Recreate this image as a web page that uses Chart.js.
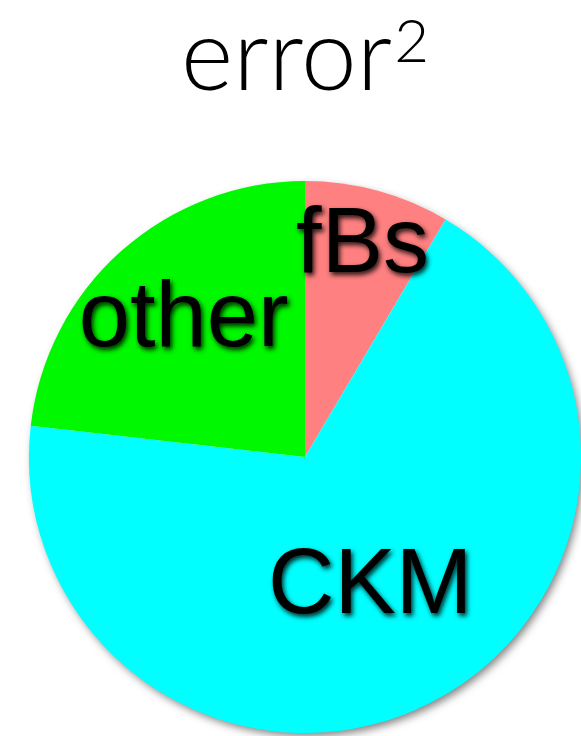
<!DOCTYPE html>
<html>
<head>
<meta charset="utf-8">
<script src="https://cdn.jsdelivr.net/npm/chart.js@4/dist/chart.umd.min.js"></script>
<style>
  html, body { margin: 0; padding: 0; background: #fff; }
  #wrap { width: 581px; height: 736px; }
</style>
</head>
<body>
<div id="wrap"><canvas id="pie" width="581" height="736"></canvas></div>
<script>
// share of the error budget, clockwise from 12 o'clock
const labels = ['fBs', 'CKM', 'other'];
const shares = [8.5, 68.3, 23.2];
const sliceColors = ['#ff8080', '#00ffff', '#00f800'];
const titleText = 'error';
const titleExponent = '2';

// "error" with a real superscript 2, centred over the pie
const squaredTitle = {
    id: 'squaredTitle',
    afterDraw(chart, args, opts) {
        const ctx = chart.ctx;
        const cx = (chart.chartArea.left + chart.chartArea.right) / 2;
        ctx.save();
        ctx.fillStyle = '#000';
        ctx.textBaseline = 'alphabetic';
        ctx.textAlign = 'left';
        ctx.font = '300 ' + opts.size + 'px ' + opts.family;
        const w1 = ctx.measureText(titleText).width;
        ctx.font = '300 ' + opts.supSize + 'px ' + opts.family;
        const w2 = ctx.measureText(titleExponent).width;
        const x0 = cx - (w1 + opts.gap + w2) / 2;
        ctx.font = '300 ' + opts.size + 'px ' + opts.family;
        ctx.fillText(titleText, x0, opts.baseline);
        ctx.font = '300 ' + opts.supSize + 'px ' + opts.family;
        ctx.fillText(titleExponent, x0 + w1 + opts.gap, opts.supBaseline);
        ctx.restore();
    }
};

// soft drop shadow under the whole disc
const discShadow = {
    id: 'discShadow',
    beforeDatasetsDraw(chart) {
        const arc = chart.getDatasetMeta(0).data[0];
        if (!arc) return;
        const ctx = chart.ctx;
        ctx.save();
        ctx.shadowColor = 'rgba(0,0,0,0.5)';
        ctx.shadowBlur = 9;
        ctx.shadowOffsetX = 3;
        ctx.shadowOffsetY = 4;
        ctx.fillStyle = '#fff';
        ctx.beginPath();
        ctx.arc(arc.x, arc.y, arc.outerRadius - 1, 0, Math.PI * 2);
        ctx.fill();
        ctx.restore();
    }
};

// big labels inside the slices, placed along each slice's middle angle
const sliceLabels = {
    id: 'sliceLabels',
    afterDatasetsDraw(chart, args, opts) {
        const ctx = chart.ctx;
        const meta = chart.getDatasetMeta(0);
        ctx.save();
        ctx.font = opts.font;
        ctx.textAlign = 'center';
        ctx.textBaseline = 'middle';
        ctx.fillStyle = '#000';
        ctx.shadowColor = 'rgba(0,0,0,0.85)';
        ctx.shadowBlur = 5;
        ctx.shadowOffsetX = 2;
        ctx.shadowOffsetY = 3;
        meta.data.forEach((arc, i) => {
            const mid = (arc.startAngle + arc.endAngle) / 2;
            const r = arc.outerRadius * opts.radius[i];
            ctx.fillText(labels[i], arc.x + Math.cos(mid) * r, arc.y + Math.sin(mid) * r);
        });
        ctx.restore();
    }
};

new Chart(document.getElementById('pie'), {
    type: 'pie',
    data: {
        labels: labels,
        datasets: [{
            data: shares,
            backgroundColor: sliceColors,
            borderWidth: 0
        }]
    },
    options: {
        responsive: false,
        animation: false,
        layout: { padding: { left: 29, right: 0, top: 181, bottom: 3 } },
        plugins: {
            legend: { display: false },
            tooltip: { enabled: false },
            title: { display: false },
            squaredTitle: {
                family: 'Lato, "Open Sans", sans-serif',
                size: 100,
                supSize: 60,
                gap: 2,
                baseline: 90,
                supBaseline: 62
            },
            sliceLabels: {
                font: '92px "Liberation Sans", Arial, sans-serif',
                radius: [0.79, 0.53, 0.66]
            }
        }
    },
    plugins: [discShadow, sliceLabels, squaredTitle]
});
</script>
</body>
</html>
